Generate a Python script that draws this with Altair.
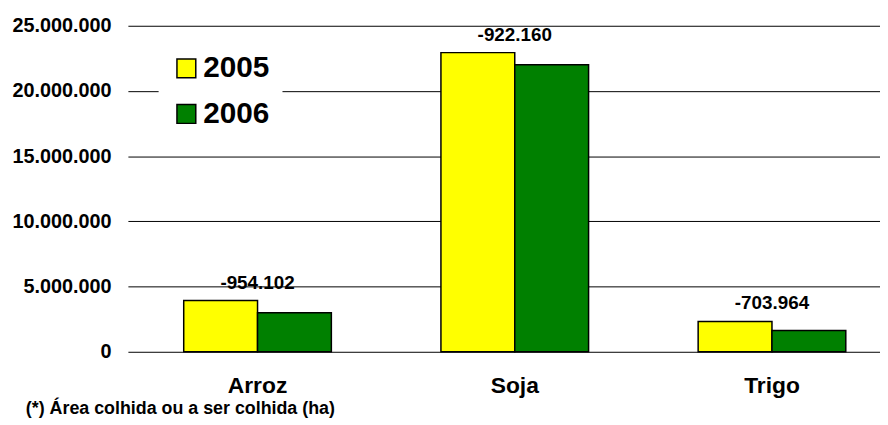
import altair as alt
import pandas as pd

crops = ["Arroz", "Soja", "Trigo"]
years = ["2005", "2006"]
area_2005 = [3940000, 22940000, 2330000]
area_2006 = [2986000, 22018000, 1626000]
diffs = [-954102, -922160, -703964]
y_ticks = [0, 5000000, 10000000, 15000000, 20000000, 25000000]
note = "(*) Área colhida ou a ser colhida (ha)"

FONT = "Liberation Sans"
H = 329

rows = []
for c, a, b in zip(crops, area_2005, area_2006):
    rows.append({"crop": c, "year": "2005", "area": a})
    rows.append({"crop": c, "year": "2006", "area": b})
df = pd.DataFrame(rows)

lab = pd.DataFrame({
    "crop": crops,
    "top": area_2005,
    "label": [f"{d:,}".replace(",", ".") for d in diffs],
})

xscale = alt.Scale(paddingInner=0.426, paddingOuter=0.175, align=0.62)
yscale = alt.Scale(domain=[0, 25000000], nice=False)

bars = alt.Chart(df).mark_bar(stroke="black", strokeWidth=1.5).encode(
    x=alt.X("crop:N", sort=crops, scale=xscale,
            axis=alt.Axis(title=None, labelAngle=0, labelFont=FONT, labelFontSize=23,
                          labelFontWeight="bold", labelColor="black", labelPadding=23,
                          ticks=False, tickSize=0, domain=False)),
    xOffset=alt.XOffset("year:N", sort=years, scale=alt.Scale(paddingInner=0, paddingOuter=0)),
    y=alt.Y("area:Q", scale=yscale,
            axis=alt.Axis(title=None, values=y_ticks, labelFont=FONT, labelFontSize=20,
                          labelFontWeight="bold", labelColor="black", labelPadding=17,
                          ticks=False, tickSize=0, domain=False, grid=True,
                          gridColor="#000000", gridWidth=1,
                          labelExpr="replace(format(datum.value, ','), regexp(',', 'g'), '.')")),
    color=alt.Color("year:N", sort=years,
                    scale=alt.Scale(domain=years, range=["#FFFF00", "#008000"]),
                    legend=alt.Legend(title=None, orient="none", legendX=31, legendY=15,
                                      symbolType="square", symbolSize=361,
                                      symbolStrokeColor="black", symbolStrokeWidth=1.5,
                                      labelFont=FONT, labelFontSize=30, labelFontWeight="bold",
                                      labelColor="black", labelOffset=2, rowPadding=16,
                                      padding=13, fillColor="white")),
)

labels = alt.Chart(lab).mark_text(font=FONT, fontSize=19, fontWeight="bold", color="black",
                                  baseline="bottom", dy=-8).encode(
    x=alt.X("crop:N", sort=crops, scale=xscale),
    y=alt.Y("top:Q", scale=yscale),
    text="label:N",
)

foot = alt.Chart(pd.DataFrame({"t": [note]})).mark_text(
    font=FONT, fontSize=18, fontWeight="bold", color="black", align="left",
    baseline="alphabetic").encode(
    x=alt.value(-103), y=alt.value(H + 63), text="t:N")

chart = alt.layer(bars, labels, foot).properties(
    width=759, height=H,
    autosize=alt.AutoSizeParams(type="none"),
    padding={"left": 121, "top": 16, "right": 0, "bottom": 75},
).configure_view(stroke=None)

chart.save("out.html", embed_options={"renderer": "svg", "actions": False})
